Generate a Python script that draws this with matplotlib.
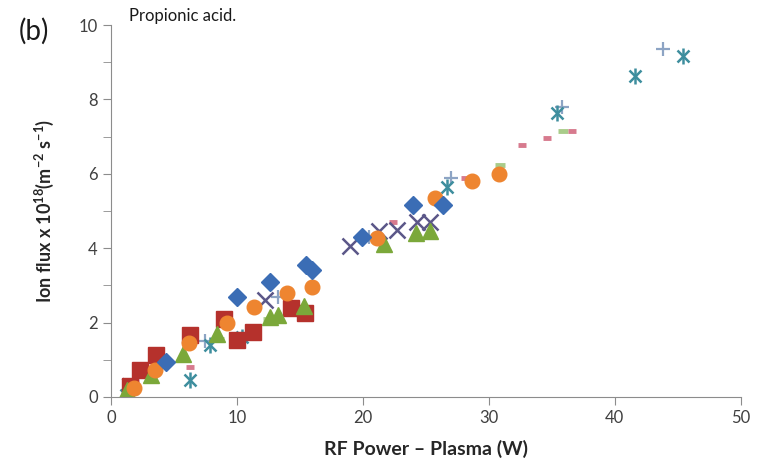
import matplotlib
matplotlib.use("Agg")
import matplotlib.pyplot as plt

plt.rcParams['font.family'] = ['Lato', 'DejaVu Sans']
plt.rcParams['mathtext.fontset'] = 'custom'
plt.rcParams['mathtext.rm'] = 'Lato'
plt.rcParams['mathtext.bf'] = 'Lato:bold'

# ion flux vs RF power, one series per precursor
diam_x = [4.4, 10.0, 12.6, 15.5, 16.0, 19.9, 24.0, 26.4]
diam_y = [0.95, 2.7, 3.1, 3.55, 3.4, 4.3, 5.15, 5.15]

sq_x = [1.5, 2.3, 3.6, 6.3, 9.0, 10.0, 11.3, 14.3, 15.4]
sq_y = [0.3, 0.72, 1.12, 1.66, 2.1, 1.52, 1.75, 2.4, 2.25]

tri_x = [1.3, 3.2, 5.7, 8.4, 12.6, 13.3, 15.3, 21.7, 24.2, 25.3]
tri_y = [0.2, 0.6, 1.15, 1.7, 2.15, 2.2, 2.45, 4.12, 4.4, 4.45]

x_x = [1.5, 12.2, 19.0, 21.3, 22.7, 24.3, 25.3]
x_y = [0.3, 2.6, 4.05, 4.45, 4.5, 4.7, 4.7]

ast_x = [1.2, 6.3, 7.9, 10.4, 26.7, 35.4, 41.6, 45.4]
ast_y = [0.05, 0.45, 1.4, 1.6, 5.65, 7.63, 8.63, 9.17]

circ_x = [1.8, 3.5, 6.2, 9.2, 11.4, 14.0, 16.0, 21.1, 25.7, 28.7, 30.8]
circ_y = [0.25, 0.73, 1.45, 2.0, 2.42, 2.8, 2.95, 4.27, 5.35, 5.8, 6.0]

plus_x = [1.6, 7.5, 13.3, 20.5, 27.0, 35.8, 43.8]
plus_y = [0.2, 1.5, 2.7, 4.3, 5.9, 7.8, 9.35]

pdash_x = [1.9, 6.3, 22.4, 28.1, 32.6, 34.6, 36.6]
pdash_y = [0.4, 0.8, 4.7, 5.9, 6.77, 6.96, 7.15]

gdash_x = [3.0, 8.6, 12.5, 30.9, 35.9]
gdash_y = [0.75, 1.55, 2.1, 6.24, 7.15]

fig = plt.figure(figsize=(7.7, 4.72), dpi=100)
ax = fig.add_axes([0.144, 0.159, 0.818, 0.788])

ax.plot(gdash_x, gdash_y, '_', color='#a9cc8a', ms=7, mew=3.5, ls='none')
ax.plot(pdash_x, pdash_y, '_', color='#d77a8e', ms=6, mew=3.5, ls='none')
ax.plot(plus_x, plus_y, '+', color='#8da4c4', ms=10, mew=1.6, ls='none')
ax.plot(ast_x, ast_y, 'x', color='#3e8e9e', ms=9, mew=1.8, ls='none')
ax.plot(ast_x, ast_y, '|', color='#3e8e9e', ms=11, mew=1.8, ls='none')
ax.plot(x_x, x_y, 'x', color='#5b5788', ms=11, mew=1.8, ls='none')
ax.plot(sq_x, sq_y, 's', color='#b5312c', ms=11, ls='none')
ax.plot(tri_x, tri_y, '^', color='#7ba83a', ms=11, ls='none')
ax.plot(circ_x, circ_y, 'o', color='#ee8530', ms=10.5, ls='none')
ax.plot(diam_x, diam_y, 'D', color='#3b6db5', ms=9, ls='none')

ax.set_xlim(0, 50)
ax.set_ylim(0, 10)
ax.set_xticks(range(0, 51, 10))
ax.set_yticks(range(0, 11, 2))
ax.set_yticks(range(1, 10, 2), minor=True)

for s in ['top', 'right']:
    ax.spines[s].set_visible(False)
for s in ['left', 'bottom']:
    ax.spines[s].set_color('#8c8c8c')
ax.tick_params(which='both', color='#8c8c8c', labelcolor='#404040', labelsize=12)
ax.tick_params(which='major', length=6)
ax.tick_params(which='minor', length=6)

ax.set_xlabel('RF Power \u2013 Plasma (W)', fontsize=14, fontweight='bold',
              color='#262626', labelpad=10)
ax.set_ylabel(r'Ion flux x 10$^{\mathbf{18}}$(m$^{\mathbf{-2}}$ s$^{\mathbf{-1}}$)',
              fontsize=13, fontweight='bold', color='#262626', labelpad=16)

fig.text(0.024, 0.915, '(b)', fontsize=20, color='#1a1a1a')
fig.text(0.168, 0.955, 'Propionic acid.', fontsize=12, color='#1a1a1a')

fig.savefig('out.png', dpi=100)
